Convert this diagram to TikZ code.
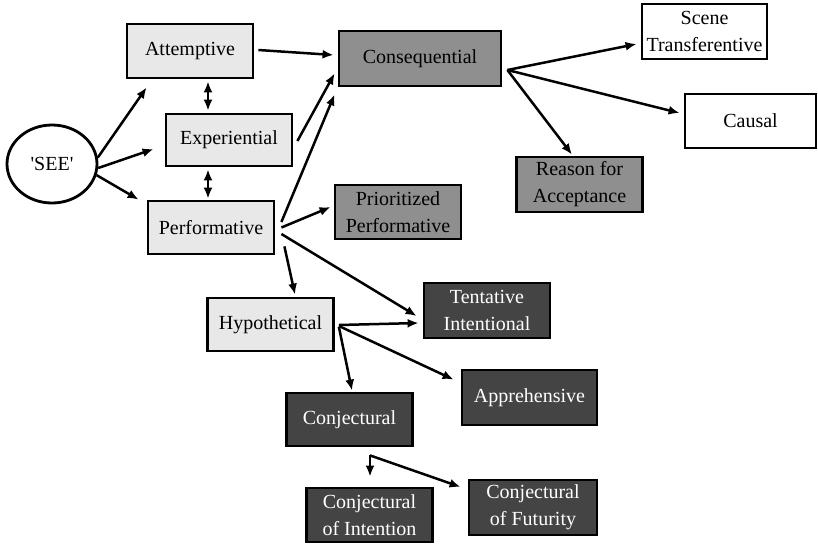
\documentclass[tikz,border=0pt]{standalone}
\usepackage{fontspec}
\setmainfont{Liberation Serif}
\usetikzlibrary{arrows.meta, shapes.geometric}
\definecolor{boxlite}{HTML}{E8E8E8}
\definecolor{boxmid}{HTML}{8F8F8F}
\definecolor{boxdark}{HTML}{444444}

\begin{document}
\begin{tikzpicture}[x=1pt, y=-1pt, line width=2.5pt,
    every node/.style={draw=black, line width=2.8pt, font=\fontsize{20}{27}\selectfont, align=center, inner sep=0pt, minimum width=126pt, minimum height=54pt},
    litebox/.style={fill=boxlite},
    midbox/.style={fill=boxmid},
    darkbox/.style={fill=boxdark, text=white},
    plainbox/.style={fill=white},
    arr/.style={-{Latex[length=11pt,width=9pt]}},
    dblarr/.style={{Latex[length=11pt,width=9pt]}-{Latex[length=11pt,width=9pt]}}]
    \useasboundingbox (0,0) rectangle (818,544);

    % left column
    \node[ellipse, plainbox, minimum width=90pt, minimum height=78pt] (see) at (52,164) {\textquotesingle SEE\textquotesingle};
    \node[litebox] (att) at (190,51) {Attemptive};
    \node[litebox, minimum height=52pt] (exp) at (229,140) {Experiential};
    \node[litebox, minimum height=53pt] (perf) at (211,227.5) {Performative};
    \node[litebox, minimum height=53pt] (hyp) at (270.5,324.5) {Hypothetical};

    % middle
    \node[midbox, minimum width=162pt, minimum height=55pt] (cons) at (420,58.5) {Consequential};
    \node[midbox] (prio) at (398,212) {Prioritized\\Performative};
    \node[midbox, minimum height=55pt] (reason) at (579.5,184.5) {Reason for\\Acceptance};
    \node[darkbox, minimum height=55pt] (tent) at (487,310.5) {Tentative\\Intentional};
    \node[darkbox, minimum width=135pt, minimum height=55pt] (appr) at (529.5,397.5) {Apprehensive};
    \node[darkbox, minimum height=53pt] (conj) at (349.5,419.5) {Conjectural};
    \node[darkbox] (conjint) at (369.5,515) {Conjectural\\of Intention};
    \node[darkbox, minimum width=128pt, minimum height=55pt] (conjfut) at (533,507.5) {Conjectural\\of Futurity};

    % right
    \node[plainbox, minimum width=125pt, minimum height=55pt] (scene) at (704.5,31.5) {Scene\\Transferentive};
    \node[plainbox, minimum width=131pt] (causal) at (750.5,121) {Causal};

    % connectors
    \draw[arr] (see.8) -- ([shift={(21,8)}]att.south west);
    \draw[arr] (see.-5) -- ([shift={(-11,9)}]exp.west);
    \draw[arr] (see.-14) -- ([shift={(-8,0)}]perf.north west);
    \draw[dblarr] ([shift={(18,2)}]att.south) -- ([shift={(-21,-2)}]exp.north);
    \draw[dblarr] ([shift={(-21,2)}]exp.south) -- ([shift={(-3,-1)}]perf.north);
    \draw[arr] ([shift={(4,-1)}]att.east) -- ([shift={(-4,-3.5)}]cons.west);
    \draw[arr] ([shift={(4,1)}]exp.east) -- ([shift={(-3,-14)}]cons.south west);
    \draw[arr] ([shift={(6,-5.5)}]perf.east) -- ([shift={(-3,7)}]cons.south west);
    \draw[arr] ([shift={(6,0)}]perf.east) -- ([shift={(-3,-5)}]prio.west);
    \draw[arr] ([shift={(6,6.5)}]perf.east) -- ([shift={(-6,5.5)}]tent.west);
    \draw[arr] ([shift={(9,-9)}]perf.south east) -- ([shift={(24.5,-2)}]hyp.north);
    \draw[arr] ([shift={(4,0.5)}]hyp.east) -- ([shift={(-4,12.5)}]tent.west);
    \draw[arr] ([shift={(4,1.5)}]hyp.east) -- ([shift={(-7,11)}]appr.north west);
    \draw[arr] ([shift={(4,2.5)}]hyp.east) -- ([shift={(2.5,-1)}]conj.north);

    \coordinate (fork) at ([shift={(20.5,8)}]conj.south);
    \draw[arr] (fork) -- ([shift={(0.5,-10)}]conjint.north);
    \draw[arr] (fork) -- ([shift={(-7,-20.5)}]conjfut.west);

    \coordinate (fan) at ([shift={(5,11.5)}]cons.east);
    \draw[arr] (fan) -- ([shift={(-4,12.5)}]scene.west);
    \draw[arr] (fan) -- ([shift={(-4,-8)}]causal.west);
    \draw[arr] (fan) -- ([shift={(-7.5,-1)}]reason.north);
\end{tikzpicture}
\end{document}
